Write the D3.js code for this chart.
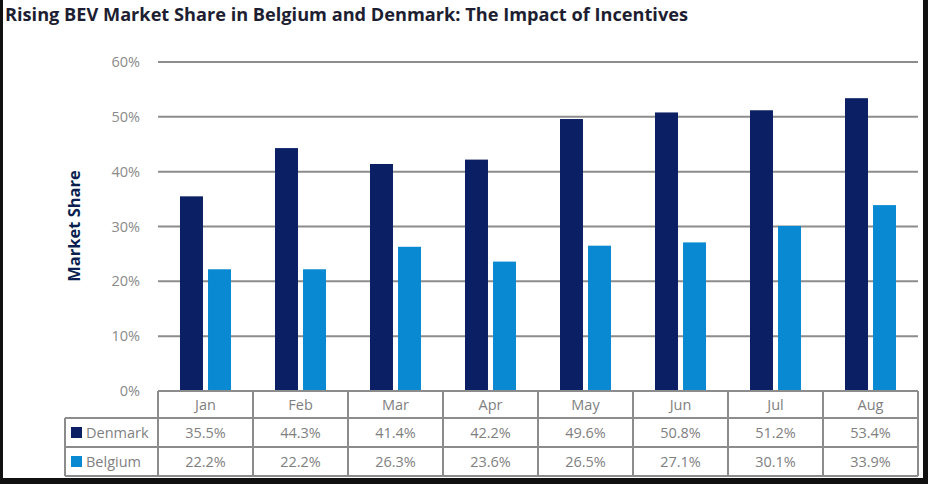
<html>
<head>
<meta charset="utf-8">
<script src="https://d3js.org/d3.v7.min.js"></script>
<style>
  body { margin: 0; background: #111; }
  svg { display: block; }
</style>
</head>
<body>
<svg id="chart"></svg>
<script>
var months = ["Jan", "Feb", "Mar", "Apr", "May", "Jun", "Jul", "Aug"];
var seriesNames = ["Denmark", "Belgium"];
var denmark = [35.5, 44.3, 41.4, 42.2, 49.6, 50.8, 51.2, 53.4];
var belgium = [22.2, 22.2, 26.3, 23.6, 26.5, 27.1, 30.1, 33.9];
var yTicks = [0, 10, 20, 30, 40, 50, 60];
var colors = ["#0a1f64", "#0889d2"];

var values = [denmark, belgium];

var W = 928, H = 484;
var plotLeft = 158, plotRight = 918, plotTop = 62, plotBottom = 391;
var legendLeft = 65;
var rowH = [27, 29, 29];   // header row, Denmark row, Belgium row

var svg = d3.select("#chart").attr("width", W).attr("height", H);

// white sheet inside the black frame
svg.append("rect").attr("x", 3).attr("y", 0).attr("width", 920).attr("height", 478).attr("fill", "#fff");

var x = d3.scaleBand().domain(months).range([plotLeft, plotRight]).paddingInner(0).paddingOuter(0);
var xs = d3.scaleBand().domain(seriesNames).range([22, 73]).paddingInner(0.18);
var y = d3.scaleLinear().domain([0, 60]).range([plotBottom, plotTop]);

// title
svg.append("text")
   .attr("x", 5).attr("y", 21)
   .attr("font-family", "Open Sans, sans-serif")
   .attr("font-weight", "bold")
   .attr("font-size", 17)
   .attr("fill", "#1e1e32")
   .attr("textLength", 683).attr("lengthAdjust", "spacingAndGlyphs")
   .text("Rising BEV Market Share in Belgium and Denmark: The Impact of Incentives");

// gridlines
svg.selectAll(".grid")
   .data(yTicks.filter(function(d) { return d > 0; }))
   .enter().append("line")
   .attr("x1", plotLeft).attr("x2", plotRight)
   .attr("y1", function(d) { return y(d); }).attr("y2", function(d) { return y(d); })
   .attr("stroke", "#8c8c8c").attr("stroke-width", 2);

// y tick labels
svg.selectAll(".ytick")
   .data(yTicks)
   .enter().append("text")
   .attr("x", 140)
   .attr("y", function(d) { return y(d) + 5; })
   .attr("text-anchor", "end")
   .attr("font-family", "Open Sans, sans-serif")
   .attr("font-size", 14.5)
   .attr("fill", "#8a8a8a")
   .text(function(d) { return d + "%"; });

// y axis title
svg.append("text")
   .attr("transform", "translate(80,226) rotate(-90)")
   .attr("text-anchor", "middle")
   .attr("font-family", "Open Sans, sans-serif")
   .attr("font-weight", "bold")
   .attr("font-size", 16.5)
   .attr("fill", "#0a1f50")
   .text("Market Share");

// bars
seriesNames.forEach(function(s, si) {
  svg.selectAll(".bar" + si)
     .data(values[si])
     .enter().append("rect")
     .attr("x", function(d, i) { return x(months[i]) + xs(s); })
     .attr("width", xs.bandwidth())
     .attr("y", function(d) { return y(d); })
     .attr("height", function(d) { return y(0) - y(d); })
     .attr("fill", colors[si]);
});

// data table
var tableTop = plotBottom;
var r1 = tableTop + rowH[0], r2 = r1 + rowH[1], r3 = r2 + rowH[2];
var gridColor = "#8c8c8c";
var t = svg.append("g").attr("stroke", gridColor).attr("stroke-width", 2).attr("fill", "none");

// horizontal table lines
t.append("line").attr("x1", plotLeft).attr("x2", plotRight).attr("y1", tableTop).attr("y2", tableTop);
[r1, r2, r3].forEach(function(yy) {
  t.append("line").attr("x1", legendLeft).attr("x2", plotRight).attr("y1", yy).attr("y2", yy);
});
// vertical table lines
t.append("line").attr("x1", legendLeft).attr("x2", legendLeft).attr("y1", r1).attr("y2", r3);
months.forEach(function(m) {
  t.append("line").attr("x1", x(m)).attr("x2", x(m)).attr("y1", tableTop).attr("y2", r3);
});
t.append("line").attr("x1", plotRight).attr("x2", plotRight).attr("y1", tableTop).attr("y2", r3);

var cellFont = { family: "Open Sans, sans-serif", size: 14.5, color: "#7f7f7f" };

// month header
svg.selectAll(".month")
   .data(months)
   .enter().append("text")
   .attr("x", function(d) { return x(d) + x.bandwidth() / 2; })
   .attr("y", tableTop + 19)
   .attr("text-anchor", "middle")
   .attr("font-family", cellFont.family).attr("font-size", cellFont.size)
   .attr("fill", cellFont.color)
   .text(function(d) { return d; });

var rowTops = [r1, r2];
seriesNames.forEach(function(s, si) {
  var ty = rowTops[si] + 20;
  svg.append("rect")
     .attr("x", 71).attr("y", rowTops[si] + 9)
     .attr("width", 11).attr("height", 11)
     .attr("fill", colors[si]);
  svg.append("text")
     .attr("x", 86).attr("y", ty)
     .attr("font-family", cellFont.family).attr("font-size", cellFont.size)
     .attr("fill", cellFont.color)
     .text(s);
  svg.selectAll(".val" + si)
     .data(values[si])
     .enter().append("text")
     .attr("x", function(d, i) { return x(months[i]) + x.bandwidth() / 2; })
     .attr("y", ty)
     .attr("text-anchor", "middle")
     .attr("font-family", cellFont.family).attr("font-size", cellFont.size)
     .attr("fill", cellFont.color)
     .text(function(d) { return d.toFixed(1) + "%"; });
});
</script>
</body>
</html>
